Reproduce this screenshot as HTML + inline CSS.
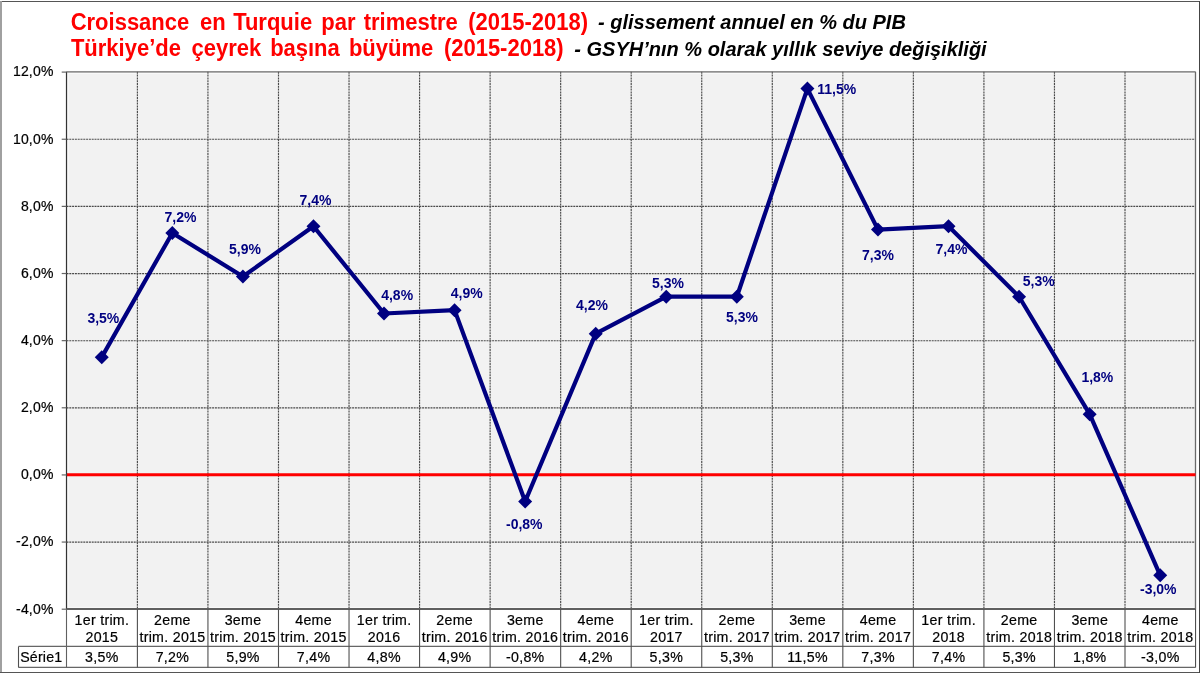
<!DOCTYPE html><html><head><meta charset="utf-8"><style>html,body{margin:0;padding:0;background:#fff;width:1200px;height:675px;overflow:hidden}svg{display:block;font-family:"Liberation Sans",sans-serif;will-change:transform}</style></head><body>
<svg width="1200" height="675" viewBox="0 0 1200 675">
<rect x="0" y="0" width="1200" height="675" fill="#fff"/>
<line x1="0" y1="1.5" x2="1200" y2="1.5" stroke="#555" stroke-width="1"/>
<line x1="1" y1="1" x2="1" y2="673" stroke="#a0a0a0" stroke-width="2"/>
<line x1="0" y1="672.5" x2="1200" y2="672.5" stroke="#555" stroke-width="1"/>
<line x1="1199.5" y1="1" x2="1199.5" y2="673" stroke="#444" stroke-width="1"/>
<text y="0" transform="translate(0 29.7) scale(1 1.07)" font-size="22" font-weight="bold" fill="#ff0000"><tspan x="70.7">Croissance</tspan><tspan x="200.1">en</tspan><tspan x="233.15">Turquie</tspan><tspan x="321.35">par</tspan><tspan x="363.7">trimestre</tspan><tspan x="468.3">(2015-2018)</tspan></text>
<text x="598" y="29" font-size="20" font-weight="bold" font-style="italic" fill="#000">- glissement annuel en % du PIB</text>
<text y="0" transform="translate(0 56.4) scale(1 1.07)" font-size="22" font-weight="bold" fill="#ff0000"><tspan x="70.95">Türkiye’de</tspan><tspan x="191.5">çeyrek</tspan><tspan x="270.15">başına</tspan><tspan x="348.95">büyüme</tspan><tspan x="443.9">(2015-2018)</tspan></text>
<text x="574.3" y="55.6" font-size="20" font-weight="bold" font-style="italic" fill="#000">- GSYH’nın % olarak yıllık seviye değişikliği</text>
<rect x="66.5" y="71.8" width="1129.0" height="537.1" fill="#f2f2f2"/>
<line x1="68" y1="73.3" x2="1194.5" y2="73.3" stroke="#fbfbfb" stroke-width="1"/>
<line x1="68" y1="607.3" x2="1194.5" y2="607.3" stroke="#fbfbfb" stroke-width="1"/>
<line x1="68.3" y1="73" x2="68.3" y2="607.5" stroke="#f8f8f8" stroke-width="1"/>
<line x1="66.5" y1="139.29" x2="1195.5" y2="139.29" stroke="#4a4a4a" stroke-width="1.15" stroke-dasharray="2,0.8"/>
<line x1="66.5" y1="206.42" x2="1195.5" y2="206.42" stroke="#4a4a4a" stroke-width="1.15" stroke-dasharray="2,0.8"/>
<line x1="66.5" y1="273.56" x2="1195.5" y2="273.56" stroke="#4a4a4a" stroke-width="1.15" stroke-dasharray="2,0.8"/>
<line x1="66.5" y1="340.70" x2="1195.5" y2="340.70" stroke="#4a4a4a" stroke-width="1.15" stroke-dasharray="2,0.8"/>
<line x1="66.5" y1="407.84" x2="1195.5" y2="407.84" stroke="#4a4a4a" stroke-width="1.15" stroke-dasharray="2,0.8"/>
<line x1="66.5" y1="474.98" x2="1195.5" y2="474.98" stroke="#4a4a4a" stroke-width="1.15" stroke-dasharray="2,0.8"/>
<line x1="66.5" y1="542.11" x2="1195.5" y2="542.11" stroke="#4a4a4a" stroke-width="1.15" stroke-dasharray="2,0.8"/>
<line x1="137.40" y1="71.8" x2="137.40" y2="608.9" stroke="#4a4a4a" stroke-width="1.15" stroke-dasharray="2,0.8"/>
<line x1="207.94" y1="71.8" x2="207.94" y2="608.9" stroke="#4a4a4a" stroke-width="1.15" stroke-dasharray="2,0.8"/>
<line x1="278.49" y1="71.8" x2="278.49" y2="608.9" stroke="#4a4a4a" stroke-width="1.15" stroke-dasharray="2,0.8"/>
<line x1="349.03" y1="71.8" x2="349.03" y2="608.9" stroke="#4a4a4a" stroke-width="1.15" stroke-dasharray="2,0.8"/>
<line x1="419.57" y1="71.8" x2="419.57" y2="608.9" stroke="#4a4a4a" stroke-width="1.15" stroke-dasharray="2,0.8"/>
<line x1="490.12" y1="71.8" x2="490.12" y2="608.9" stroke="#4a4a4a" stroke-width="1.15" stroke-dasharray="2,0.8"/>
<line x1="560.66" y1="71.8" x2="560.66" y2="608.9" stroke="#4a4a4a" stroke-width="1.15" stroke-dasharray="2,0.8"/>
<line x1="631.20" y1="71.8" x2="631.20" y2="608.9" stroke="#4a4a4a" stroke-width="1.15" stroke-dasharray="2,0.8"/>
<line x1="701.74" y1="71.8" x2="701.74" y2="608.9" stroke="#4a4a4a" stroke-width="1.15" stroke-dasharray="2,0.8"/>
<line x1="772.29" y1="71.8" x2="772.29" y2="608.9" stroke="#4a4a4a" stroke-width="1.15" stroke-dasharray="2,0.8"/>
<line x1="842.83" y1="71.8" x2="842.83" y2="608.9" stroke="#4a4a4a" stroke-width="1.15" stroke-dasharray="2,0.8"/>
<line x1="913.37" y1="71.8" x2="913.37" y2="608.9" stroke="#4a4a4a" stroke-width="1.15" stroke-dasharray="2,0.8"/>
<line x1="983.92" y1="71.8" x2="983.92" y2="608.9" stroke="#4a4a4a" stroke-width="1.15" stroke-dasharray="2,0.8"/>
<line x1="1054.46" y1="71.8" x2="1054.46" y2="608.9" stroke="#4a4a4a" stroke-width="1.15" stroke-dasharray="2,0.8"/>
<line x1="1125.00" y1="71.8" x2="1125.00" y2="608.9" stroke="#4a4a4a" stroke-width="1.15" stroke-dasharray="2,0.8"/>
<line x1="66.5" y1="71.8" x2="1195.5" y2="71.8" stroke="#6a6a6a" stroke-width="1.3"/>
<line x1="1195.5" y1="71.8" x2="1195.5" y2="608.9" stroke="#6a6a6a" stroke-width="1.3"/>
<line x1="66.5" y1="474.63" x2="1195.5" y2="474.63" stroke="#ff0000" stroke-width="3"/>
<line x1="66.5" y1="71.8" x2="66.5" y2="608.9" stroke="#333" stroke-width="1.2"/>
<line x1="66.5" y1="608.9" x2="66.5" y2="667.5" stroke="#606060" stroke-width="1.1"/>
<line x1="61.7" y1="72.10" x2="66.5" y2="72.10" stroke="#666" stroke-width="1.2"/>
<text x="53.6" y="76.40" font-size="14" letter-spacing="0.2" text-anchor="end" fill="#000" stroke="#000" stroke-width="0.2">12,0%</text>
<line x1="61.7" y1="139.24" x2="66.5" y2="139.24" stroke="#666" stroke-width="1.2"/>
<text x="53.6" y="143.54" font-size="14" letter-spacing="0.2" text-anchor="end" fill="#000" stroke="#000" stroke-width="0.2">10,0%</text>
<line x1="61.7" y1="206.38" x2="66.5" y2="206.38" stroke="#666" stroke-width="1.2"/>
<text x="53.6" y="210.67" font-size="14" letter-spacing="0.2" text-anchor="end" fill="#000" stroke="#000" stroke-width="0.2">8,0%</text>
<line x1="61.7" y1="273.51" x2="66.5" y2="273.51" stroke="#666" stroke-width="1.2"/>
<text x="53.6" y="277.81" font-size="14" letter-spacing="0.2" text-anchor="end" fill="#000" stroke="#000" stroke-width="0.2">6,0%</text>
<line x1="61.7" y1="340.65" x2="66.5" y2="340.65" stroke="#666" stroke-width="1.2"/>
<text x="53.6" y="344.95" font-size="14" letter-spacing="0.2" text-anchor="end" fill="#000" stroke="#000" stroke-width="0.2">4,0%</text>
<line x1="61.7" y1="407.79" x2="66.5" y2="407.79" stroke="#666" stroke-width="1.2"/>
<text x="53.6" y="412.09" font-size="14" letter-spacing="0.2" text-anchor="end" fill="#000" stroke="#000" stroke-width="0.2">2,0%</text>
<line x1="61.7" y1="474.93" x2="66.5" y2="474.93" stroke="#666" stroke-width="1.2"/>
<text x="53.6" y="479.23" font-size="14" letter-spacing="0.2" text-anchor="end" fill="#000" stroke="#000" stroke-width="0.2">0,0%</text>
<line x1="61.7" y1="542.06" x2="66.5" y2="542.06" stroke="#666" stroke-width="1.2"/>
<text x="53.6" y="546.36" font-size="14" letter-spacing="0.2" text-anchor="end" fill="#000" stroke="#000" stroke-width="0.2">-2,0%</text>
<line x1="61.7" y1="609.20" x2="66.5" y2="609.20" stroke="#666" stroke-width="1.2"/>
<text x="53.6" y="613.50" font-size="14" letter-spacing="0.2" text-anchor="end" fill="#000" stroke="#000" stroke-width="0.2">-4,0%</text>
<line x1="66.5" y1="608.9" x2="1195.5" y2="608.9" stroke="#606060" stroke-width="2"/>
<line x1="18.5" y1="646.4" x2="1195.5" y2="646.4" stroke="#666" stroke-width="1.3"/>
<line x1="18.5" y1="667.4" x2="1195.5" y2="667.4" stroke="#666" stroke-width="1.3"/>
<line x1="18.5" y1="646.5" x2="18.5" y2="667.5" stroke="#505050" stroke-width="1.1"/>
<line x1="137.40" y1="608.9" x2="137.40" y2="667.5" stroke="#505050" stroke-width="1.1"/>
<line x1="207.94" y1="608.9" x2="207.94" y2="667.5" stroke="#505050" stroke-width="1.1"/>
<line x1="278.49" y1="608.9" x2="278.49" y2="667.5" stroke="#505050" stroke-width="1.1"/>
<line x1="349.03" y1="608.9" x2="349.03" y2="667.5" stroke="#505050" stroke-width="1.1"/>
<line x1="419.57" y1="608.9" x2="419.57" y2="667.5" stroke="#505050" stroke-width="1.1"/>
<line x1="490.12" y1="608.9" x2="490.12" y2="667.5" stroke="#505050" stroke-width="1.1"/>
<line x1="560.66" y1="608.9" x2="560.66" y2="667.5" stroke="#505050" stroke-width="1.1"/>
<line x1="631.20" y1="608.9" x2="631.20" y2="667.5" stroke="#505050" stroke-width="1.1"/>
<line x1="701.74" y1="608.9" x2="701.74" y2="667.5" stroke="#505050" stroke-width="1.1"/>
<line x1="772.29" y1="608.9" x2="772.29" y2="667.5" stroke="#505050" stroke-width="1.1"/>
<line x1="842.83" y1="608.9" x2="842.83" y2="667.5" stroke="#505050" stroke-width="1.1"/>
<line x1="913.37" y1="608.9" x2="913.37" y2="667.5" stroke="#505050" stroke-width="1.1"/>
<line x1="983.92" y1="608.9" x2="983.92" y2="667.5" stroke="#505050" stroke-width="1.1"/>
<line x1="1054.46" y1="608.9" x2="1054.46" y2="667.5" stroke="#505050" stroke-width="1.1"/>
<line x1="1125.00" y1="608.9" x2="1125.00" y2="667.5" stroke="#505050" stroke-width="1.1"/>
<line x1="1195.55" y1="608.9" x2="1195.55" y2="667.5" stroke="#505050" stroke-width="1.1"/>
<text x="20.2" y="661.6" font-size="14.2" letter-spacing="0.2" fill="#000" stroke="#000" stroke-width="0.2">Série1</text>
<text x="101.88" y="624.5" font-size="14.2" letter-spacing="0.3" text-anchor="middle" fill="#000" stroke="#000" stroke-width="0.2">1er trim.</text>
<text x="101.88" y="641.5" font-size="14.2" letter-spacing="0.3" text-anchor="middle" fill="#000" stroke="#000" stroke-width="0.2">2015</text>
<text x="101.88" y="661.8" font-size="14.2" letter-spacing="0.3" text-anchor="middle" fill="#000" stroke="#000" stroke-width="0.2">3,5%</text>
<text x="172.44" y="624.5" font-size="14.2" letter-spacing="0.3" text-anchor="middle" fill="#000" stroke="#000" stroke-width="0.2">2eme</text>
<text x="172.44" y="641.5" font-size="14.2" letter-spacing="0.3" text-anchor="middle" fill="#000" stroke="#000" stroke-width="0.2">trim. 2015</text>
<text x="172.44" y="661.8" font-size="14.2" letter-spacing="0.3" text-anchor="middle" fill="#000" stroke="#000" stroke-width="0.2">7,2%</text>
<text x="243.01" y="624.5" font-size="14.2" letter-spacing="0.3" text-anchor="middle" fill="#000" stroke="#000" stroke-width="0.2">3eme</text>
<text x="243.01" y="641.5" font-size="14.2" letter-spacing="0.3" text-anchor="middle" fill="#000" stroke="#000" stroke-width="0.2">trim. 2015</text>
<text x="243.01" y="661.8" font-size="14.2" letter-spacing="0.3" text-anchor="middle" fill="#000" stroke="#000" stroke-width="0.2">5,9%</text>
<text x="313.57" y="624.5" font-size="14.2" letter-spacing="0.3" text-anchor="middle" fill="#000" stroke="#000" stroke-width="0.2">4eme</text>
<text x="313.57" y="641.5" font-size="14.2" letter-spacing="0.3" text-anchor="middle" fill="#000" stroke="#000" stroke-width="0.2">trim. 2015</text>
<text x="313.57" y="661.8" font-size="14.2" letter-spacing="0.3" text-anchor="middle" fill="#000" stroke="#000" stroke-width="0.2">7,4%</text>
<text x="384.13" y="624.5" font-size="14.2" letter-spacing="0.3" text-anchor="middle" fill="#000" stroke="#000" stroke-width="0.2">1er trim.</text>
<text x="384.13" y="641.5" font-size="14.2" letter-spacing="0.3" text-anchor="middle" fill="#000" stroke="#000" stroke-width="0.2">2016</text>
<text x="384.13" y="661.8" font-size="14.2" letter-spacing="0.3" text-anchor="middle" fill="#000" stroke="#000" stroke-width="0.2">4,8%</text>
<text x="454.69" y="624.5" font-size="14.2" letter-spacing="0.3" text-anchor="middle" fill="#000" stroke="#000" stroke-width="0.2">2eme</text>
<text x="454.69" y="641.5" font-size="14.2" letter-spacing="0.3" text-anchor="middle" fill="#000" stroke="#000" stroke-width="0.2">trim. 2016</text>
<text x="454.69" y="661.8" font-size="14.2" letter-spacing="0.3" text-anchor="middle" fill="#000" stroke="#000" stroke-width="0.2">4,9%</text>
<text x="525.26" y="624.5" font-size="14.2" letter-spacing="0.3" text-anchor="middle" fill="#000" stroke="#000" stroke-width="0.2">3eme</text>
<text x="525.26" y="641.5" font-size="14.2" letter-spacing="0.3" text-anchor="middle" fill="#000" stroke="#000" stroke-width="0.2">trim. 2016</text>
<text x="525.26" y="661.8" font-size="14.2" letter-spacing="0.3" text-anchor="middle" fill="#000" stroke="#000" stroke-width="0.2">-0,8%</text>
<text x="595.82" y="624.5" font-size="14.2" letter-spacing="0.3" text-anchor="middle" fill="#000" stroke="#000" stroke-width="0.2">4eme</text>
<text x="595.82" y="641.5" font-size="14.2" letter-spacing="0.3" text-anchor="middle" fill="#000" stroke="#000" stroke-width="0.2">trim. 2016</text>
<text x="595.82" y="661.8" font-size="14.2" letter-spacing="0.3" text-anchor="middle" fill="#000" stroke="#000" stroke-width="0.2">4,2%</text>
<text x="666.38" y="624.5" font-size="14.2" letter-spacing="0.3" text-anchor="middle" fill="#000" stroke="#000" stroke-width="0.2">1er trim.</text>
<text x="666.38" y="641.5" font-size="14.2" letter-spacing="0.3" text-anchor="middle" fill="#000" stroke="#000" stroke-width="0.2">2017</text>
<text x="666.38" y="661.8" font-size="14.2" letter-spacing="0.3" text-anchor="middle" fill="#000" stroke="#000" stroke-width="0.2">5,3%</text>
<text x="736.94" y="624.5" font-size="14.2" letter-spacing="0.3" text-anchor="middle" fill="#000" stroke="#000" stroke-width="0.2">2eme</text>
<text x="736.94" y="641.5" font-size="14.2" letter-spacing="0.3" text-anchor="middle" fill="#000" stroke="#000" stroke-width="0.2">trim. 2017</text>
<text x="736.94" y="661.8" font-size="14.2" letter-spacing="0.3" text-anchor="middle" fill="#000" stroke="#000" stroke-width="0.2">5,3%</text>
<text x="807.51" y="624.5" font-size="14.2" letter-spacing="0.3" text-anchor="middle" fill="#000" stroke="#000" stroke-width="0.2">3eme</text>
<text x="807.51" y="641.5" font-size="14.2" letter-spacing="0.3" text-anchor="middle" fill="#000" stroke="#000" stroke-width="0.2">trim. 2017</text>
<text x="807.51" y="661.8" font-size="14.2" letter-spacing="0.3" text-anchor="middle" fill="#000" stroke="#000" stroke-width="0.2">11,5%</text>
<text x="878.07" y="624.5" font-size="14.2" letter-spacing="0.3" text-anchor="middle" fill="#000" stroke="#000" stroke-width="0.2">4eme</text>
<text x="878.07" y="641.5" font-size="14.2" letter-spacing="0.3" text-anchor="middle" fill="#000" stroke="#000" stroke-width="0.2">trim. 2017</text>
<text x="878.07" y="661.8" font-size="14.2" letter-spacing="0.3" text-anchor="middle" fill="#000" stroke="#000" stroke-width="0.2">7,3%</text>
<text x="948.63" y="624.5" font-size="14.2" letter-spacing="0.3" text-anchor="middle" fill="#000" stroke="#000" stroke-width="0.2">1er trim.</text>
<text x="948.63" y="641.5" font-size="14.2" letter-spacing="0.3" text-anchor="middle" fill="#000" stroke="#000" stroke-width="0.2">2018</text>
<text x="948.63" y="661.8" font-size="14.2" letter-spacing="0.3" text-anchor="middle" fill="#000" stroke="#000" stroke-width="0.2">7,4%</text>
<text x="1019.19" y="624.5" font-size="14.2" letter-spacing="0.3" text-anchor="middle" fill="#000" stroke="#000" stroke-width="0.2">2eme</text>
<text x="1019.19" y="641.5" font-size="14.2" letter-spacing="0.3" text-anchor="middle" fill="#000" stroke="#000" stroke-width="0.2">trim. 2018</text>
<text x="1019.19" y="661.8" font-size="14.2" letter-spacing="0.3" text-anchor="middle" fill="#000" stroke="#000" stroke-width="0.2">5,3%</text>
<text x="1089.76" y="624.5" font-size="14.2" letter-spacing="0.3" text-anchor="middle" fill="#000" stroke="#000" stroke-width="0.2">3eme</text>
<text x="1089.76" y="641.5" font-size="14.2" letter-spacing="0.3" text-anchor="middle" fill="#000" stroke="#000" stroke-width="0.2">trim. 2018</text>
<text x="1089.76" y="661.8" font-size="14.2" letter-spacing="0.3" text-anchor="middle" fill="#000" stroke="#000" stroke-width="0.2">1,8%</text>
<text x="1160.32" y="624.5" font-size="14.2" letter-spacing="0.3" text-anchor="middle" fill="#000" stroke="#000" stroke-width="0.2">4eme</text>
<text x="1160.32" y="641.5" font-size="14.2" letter-spacing="0.3" text-anchor="middle" fill="#000" stroke="#000" stroke-width="0.2">trim. 2018</text>
<text x="1160.32" y="661.8" font-size="14.2" letter-spacing="0.3" text-anchor="middle" fill="#000" stroke="#000" stroke-width="0.2">-3,0%</text>
<polyline points="101.78,357.13 172.34,232.93 242.91,276.57 313.47,226.22 384.03,313.50 454.59,310.14 525.16,501.48 595.72,333.64 666.28,296.71 736.84,296.71 807.41,88.58 877.97,229.57 948.53,226.22 1019.09,296.71 1089.66,414.20 1160.22,575.33" fill="none" stroke="#000080" stroke-width="4.2" stroke-linejoin="round"/>
<polygon points="94.78,357.13 101.78,350.13 108.78,357.13 101.78,364.13" fill="#000080"/>
<polygon points="165.34,232.93 172.34,225.93 179.34,232.93 172.34,239.93" fill="#000080"/>
<polygon points="235.91,276.57 242.91,269.57 249.91,276.57 242.91,283.57" fill="#000080"/>
<polygon points="306.47,226.22 313.47,219.22 320.47,226.22 313.47,233.22" fill="#000080"/>
<polygon points="377.03,313.50 384.03,306.50 391.03,313.50 384.03,320.50" fill="#000080"/>
<polygon points="447.59,310.14 454.59,303.14 461.59,310.14 454.59,317.14" fill="#000080"/>
<polygon points="518.16,501.48 525.16,494.48 532.16,501.48 525.16,508.48" fill="#000080"/>
<polygon points="588.72,333.64 595.72,326.64 602.72,333.64 595.72,340.64" fill="#000080"/>
<polygon points="659.28,296.71 666.28,289.71 673.28,296.71 666.28,303.71" fill="#000080"/>
<polygon points="729.84,296.71 736.84,289.71 743.84,296.71 736.84,303.71" fill="#000080"/>
<polygon points="800.41,88.58 807.41,81.58 814.41,88.58 807.41,95.58" fill="#000080"/>
<polygon points="870.97,229.57 877.97,222.57 884.97,229.57 877.97,236.57" fill="#000080"/>
<polygon points="941.53,226.22 948.53,219.22 955.53,226.22 948.53,233.22" fill="#000080"/>
<polygon points="1012.09,296.71 1019.09,289.71 1026.09,296.71 1019.09,303.71" fill="#000080"/>
<polygon points="1082.66,414.20 1089.66,407.20 1096.66,414.20 1089.66,421.20" fill="#000080"/>
<polygon points="1153.22,575.33 1160.22,568.33 1167.22,575.33 1160.22,582.33" fill="#000080"/>
<text x="87.4" y="323.0" font-size="14" font-weight="bold" fill="#000080">3,5%</text>
<text x="164.5" y="222.0" font-size="14" font-weight="bold" fill="#000080">7,2%</text>
<text x="229" y="253.5" font-size="14" font-weight="bold" fill="#000080">5,9%</text>
<text x="299.5" y="205.0" font-size="14" font-weight="bold" fill="#000080">7,4%</text>
<text x="381.2" y="299.9" font-size="14" font-weight="bold" fill="#000080">4,8%</text>
<text x="450.8" y="298.2" font-size="14" font-weight="bold" fill="#000080">4,9%</text>
<text x="506" y="528.6" font-size="14" font-weight="bold" fill="#000080">-0,8%</text>
<text x="576" y="310.0" font-size="14" font-weight="bold" fill="#000080">4,2%</text>
<text x="652" y="288.0" font-size="14" font-weight="bold" fill="#000080">5,3%</text>
<text x="726" y="321.5" font-size="14" font-weight="bold" fill="#000080">5,3%</text>
<text x="817.2" y="93.9" font-size="14" font-weight="bold" fill="#000080">11,5%</text>
<text x="862" y="259.8" font-size="14" font-weight="bold" fill="#000080">7,3%</text>
<text x="935.5" y="254.0" font-size="14" font-weight="bold" fill="#000080">7,4%</text>
<text x="1022.8" y="285.9" font-size="14" font-weight="bold" fill="#000080">5,3%</text>
<text x="1081.4" y="382.25" font-size="14" font-weight="bold" fill="#000080">1,8%</text>
<text x="1140" y="594.05" font-size="14" font-weight="bold" fill="#000080">-3,0%</text>
</svg></body></html>
